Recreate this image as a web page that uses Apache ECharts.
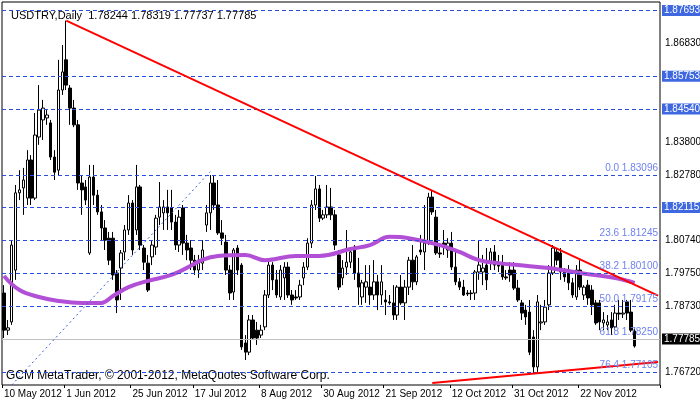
<!DOCTYPE html>
<html>
<head>
    <meta charset="UTF-8">
    <script src="https://cdn.jsdelivr.net/npm/echarts@6/dist/echarts.min.js"></script>
    <style>html,body{margin:0;padding:0;background:#fff;}</style>
</head>
<body>
    <div id="main" style="width: 700px; height: 402px;"></div>
    <script>
        // date labels and where they sit on the bar axis
        var dateLabels = ['10 May 2012', '1 Jun 2012', '25 Jun 2012', '17 Jul 2012', '8 Aug 2012',
            '30 Aug 2012', '21 Sep 2012', '12 Oct 2012', '31 Oct 2012', '22 Nov 2012'];
        var labelIdx = [0, 16, 33, 49, 66, 82, 98, 115, 131, 148];
        var slotCount = 169;

        // open, close, low, high
        var candles = [
            [1.7940,1.7827,1.7803,1.7964],[1.7827,1.7834,1.7812,1.7858],[1.7852,1.8086,1.7843,1.8101],[1.8010,1.8245,1.7980,1.8269],
            [1.8245,1.8254,1.8223,1.8314],[1.8260,1.8284,1.8178,1.8321],[1.8229,1.8345,1.8208,1.8375],[1.8345,1.8229,1.8208,1.8360],
            [1.8229,1.8421,1.8223,1.8488],[1.8415,1.8497,1.8391,1.8573],[1.8467,1.8503,1.8406,1.8528],[1.8473,1.8482,1.8452,1.8497],
            [1.8458,1.8354,1.8345,1.8467],[1.8354,1.8308,1.8284,1.8375],[1.8314,1.8558,1.8299,1.8650],[1.8558,1.8613,1.8543,1.8695],
            [1.8650,1.8573,1.8558,1.87693],[1.8564,1.8503,1.8452,1.8573],[1.8503,1.8452,1.8445,1.8528],[1.8452,1.8275,1.8254,1.8467],
            [1.8275,1.8254,1.8178,1.8299],[1.8263,1.8223,1.8208,1.8284],[1.8062,1.8293,1.8056,1.8330],[1.8293,1.8238,1.8208,1.8330],
            [1.8238,1.8187,1.8178,1.8254],[1.8187,1.8138,1.8101,1.8208],[1.8138,1.8101,1.8071,1.8162],[1.8107,1.8040,1.8025,1.8126],
            [1.8107,1.7995,1.7980,1.8126],[1.8001,1.7919,1.7879,1.8010],[1.8016,1.8062,1.7919,1.8071],[1.8065,1.8132,1.8040,1.8147],
            [1.8132,1.8214,1.8117,1.8238],[1.8214,1.8071,1.8056,1.8223],[1.8132,1.8263,1.8117,1.8330],[1.8263,1.8086,1.8071,1.8269],
            [1.8077,1.8034,1.8010,1.8086],[1.8031,1.7949,1.7943,1.8056],[1.8050,1.8086,1.8025,1.8101],[1.8080,1.8168,1.8056,1.8178],
            [1.8171,1.8202,1.8147,1.8278],[1.8184,1.8202,1.8132,1.8223],[1.8202,1.8184,1.8132,1.8254],[1.8199,1.8156,1.8132,1.8254],
            [1.8156,1.8086,1.8071,1.8178],[1.8086,1.8171,1.8065,1.8193],[1.8199,1.8092,1.8056,1.8208],[1.8092,1.8071,1.8040,1.8117],
            [1.8077,1.8040,1.8010,1.8101],[1.8040,1.8010,1.7995,1.8056],[1.8010,1.8040,1.7986,1.8056],[1.8031,1.8071,1.8010,1.8101],
            [1.8147,1.8184,1.8126,1.8208],[1.8184,1.8275,1.8132,1.8299],[1.8275,1.8208,1.8193,1.8299],[1.8208,1.8123,1.8117,1.8284],
            [1.8123,1.8107,1.8086,1.8162],[1.8095,1.8010,1.7995,1.8117],[1.8010,1.7940,1.7919,1.8025],[1.7943,1.8071,1.7919,1.8077],
            [1.8077,1.8010,1.7995,1.8086],[1.8025,1.7776,1.7767,1.8031],[1.7788,1.7760,1.7736,1.7812],[1.7760,1.7858,1.7751,1.7873],
            [1.7858,1.7803,1.7797,1.7873],[1.7827,1.7803,1.7782,1.7852],[1.7812,1.7827,1.7803,1.7843],[1.7837,1.7934,1.7827,1.7949],
            [1.7934,1.8025,1.7925,1.8040],[1.8025,1.7980,1.7949,1.8034],[1.7980,1.7934,1.7925,1.8010],[1.7928,1.8010,1.7919,1.8025],
            [1.7986,1.8019,1.7919,1.8034],[1.8019,1.7934,1.7925,1.8034],[1.7934,1.7919,1.7904,1.7949],[1.7928,1.7925,1.7919,1.7949],
            [1.7928,1.7964,1.7919,1.7980],[1.7986,1.8019,1.7964,1.8034],[1.8019,1.8092,1.8010,1.8107],[1.8092,1.8208,1.8077,1.8223],
            [1.8208,1.8257,1.8193,1.8296],[1.8257,1.8168,1.8156,1.8269],[1.8168,1.8178,1.8162,1.8193],[1.8178,1.8202,1.8168,1.8269],
            [1.8202,1.8178,1.8162,1.8260],[1.8178,1.8086,1.8071,1.8193],[1.8056,1.7958,1.7949,1.8071],[1.7986,1.8016,1.7964,1.8040],
            [1.8019,1.8034,1.7995,1.8132],[1.8034,1.8065,1.8016,1.8071],[1.8080,1.8001,1.7980,1.8086],[1.8001,1.7958,1.7904,1.8047],
            [1.7928,1.7971,1.7904,1.7980],[1.7958,1.7974,1.7910,1.8025],[1.7958,1.7934,1.7904,1.8025],[1.7934,1.7974,1.7919,1.8040],
            [1.7974,1.7934,1.7888,1.7995],[1.7934,1.7974,1.7904,1.8025],[1.7919,1.7913,1.7873,1.7949],[1.7913,1.7910,1.7904,1.7934],
            [1.7910,1.7873,1.7858,1.7964],[1.7873,1.7958,1.7858,1.7964],[1.7958,1.7910,1.7904,1.7995],[1.7910,1.7958,1.7858,1.7980],
            [1.7958,1.8040,1.7934,1.8050],[1.8040,1.7974,1.7949,1.8086],[1.7974,1.8050,1.7964,1.8056],[1.8071,1.8065,1.8056,1.8117],
            [1.8065,1.8092,1.8010,1.8208],[1.8092,1.8232,1.8086,1.8245],[1.8232,1.8187,1.8178,1.8254],[1.8171,1.8062,1.8056,1.8193],
            [1.8062,1.8059,1.8047,1.8086],[1.8092,1.8080,1.8056,1.8132],[1.8071,1.8092,1.8047,1.8107],[1.8092,1.8019,1.8010,1.8126],
            [1.8019,1.7974,1.7964,1.8071],[1.7974,1.7958,1.7949,1.7986],[1.7958,1.7934,1.7931,1.7980],[1.7940,1.7937,1.7931,1.7949],
            [1.7940,1.7938,1.7919,1.7949],[1.7940,1.8004,1.7919,1.8010],[1.8004,1.8025,1.7980,1.8101],[1.8004,1.8016,1.7964,1.8056],
            [1.8025,1.7980,1.7949,1.8077],[1.8031,1.8065,1.8010,1.8077],[1.8065,1.8025,1.8010,1.8086],[1.8025,1.8022,1.8004,1.8056],
            [1.8031,1.7989,1.7980,1.8056],[1.7989,1.7986,1.7980,1.8010],[1.8010,1.7995,1.7974,1.8034],[1.8010,1.7955,1.7949,1.8034],
            [1.7955,1.7919,1.7913,1.7980],[1.7910,1.7879,1.7858,1.7919],[1.7888,1.7867,1.7843,1.7904],[1.7882,1.7760,1.7751,1.7919],
            [1.7806,1.7715,1.7697,1.7827],[1.7715,1.7913,1.7700,1.7934],[1.7849,1.7852,1.7827,1.7904],[1.7852,1.7897,1.7843,1.7919],
            [1.7904,1.8001,1.7888,1.8025],[1.8001,1.8077,1.7995,1.8086],[1.8065,1.8040,1.8025,1.8077],[1.8062,1.8004,1.7980,1.8077],
            [1.8004,1.7989,1.7974,1.8016],[1.8001,1.7971,1.7949,1.8025],[1.7971,1.7934,1.7925,1.7986],[1.7928,1.8010,1.7919,1.8025],
            [1.8010,1.7958,1.7949,1.8040],[1.7934,1.7958,1.7919,1.7964],[1.7964,1.7925,1.7904,1.7980],[1.7949,1.7904,1.7873,1.7964],
            [1.7910,1.7849,1.7843,1.7919],[1.7910,1.7852,1.7827,1.7919],[1.7849,1.7858,1.7827,1.7882],[1.7843,1.7852,1.7827,1.7873],
            [1.7858,1.7834,1.7812,1.7882],[1.7837,1.7879,1.7827,1.7904],[1.7879,1.7876,1.7858,1.7919],[1.7876,1.7879,1.7864,1.7919],
            [1.7913,1.7879,1.7858,1.7919],[1.7882,1.7827,1.7821,1.7919],[1.78244,1.77785,1.77737,1.78319]
        ];

        // moving average read at points along the purple curve
        var maIdx = [0, 4, 9, 14, 20, 25, 28, 32, 37, 43, 55, 62, 67, 75, 81, 89, 94, 99, 104, 112, 117, 122, 127, 132, 140, 148, 157, 162];
        var maVal = [1.7992, 1.7949, 1.7928, 1.7916, 1.7910, 1.7910, 1.7931, 1.7958, 1.7977, 1.7995, 1.8053, 1.8056, 1.8040,
            1.8053, 1.8053, 1.8074, 1.8086, 1.8111, 1.8107, 1.8086, 1.8065, 1.8040, 1.8031, 1.8025, 1.8016, 1.8001, 1.7986, 1.7971];

        // price levels
        var axisTicks = [1.87850, 1.86830, 1.84790, 1.83800, 1.82780, 1.81760, 1.80740, 1.79750, 1.78730, 1.76720];
        var levelLines = [1.87693, 1.85753, 1.84540, 1.82115];
        var fibPct = ['0.0', '23.6', '38.2', '50.0', '61.8', '76.4'];
        var fibVal = [1.83096, 1.81245, 1.80100, 1.79175, 1.78250, 1.77105];
        var lastPrice = 1.77785;
        var trendHigh = [[16, 1.87693], [168, 1.7932]];
        var trendLow = [[110, 1.7666], [168, 1.7730]];
        var fibLine = [[2, 1.7660], [53, 1.83096]];

        var categories = [];
        for (var i = 0; i < slotCount; i++) {
            var k = labelIdx.indexOf(i);
            categories.push(k >= 0 ? dateLabels[k] : '');
        }
        var maData = categories.map(function () { return null; });
        maIdx.forEach(function (ix, j) { maData[ix] = maVal[j]; });

        var blue = '#2a4fd6';
        var font = 'Liberation Sans';
        var lines = [];
        axisTicks.forEach(function (v) {
            lines.push({
                yAxis: v, lineStyle: { color: 'rgba(0,0,0,0)', width: 1 },
                label: { show: true, position: 'end', distance: 5, formatter: v.toFixed(5), color: '#000', fontSize: 10, fontFamily: font }
            });
        });
        levelLines.forEach(function (v) {
            lines.push({
                yAxis: v, lineStyle: { color: blue, type: [4, 3], width: 1 },
                label: { show: true, position: 'end', distance: 2, formatter: v.toFixed(5), color: '#fff',
                    backgroundColor: '#3f68e0', padding: [1, 2, 0, 2], fontSize: 10, fontFamily: font }
            });
        });
        fibVal.forEach(function (v, j) {
            lines.push({
                yAxis: v, lineStyle: { color: blue, type: [4, 3], width: 1 },
                label: { show: true, position: 'insideEndTop', distance: [2, 2], formatter: fibPct[j] + ' ' + v.toFixed(5),
                    color: '#6f82ee', fontSize: 10, fontFamily: font }
            });
        });
        lines.push({
            yAxis: lastPrice, lineStyle: { color: '#c0c0c0', type: 'solid', width: 1 },
            label: { show: true, position: 'end', distance: 2, formatter: lastPrice.toFixed(5), color: '#fff',
                backgroundColor: '#000', padding: [1, 2, 0, 2], fontSize: 10, fontFamily: font }
        });
        function seg(p, style) {
            return [{ coord: p[0], lineStyle: style, label: { show: false } }, { coord: p[1] }];
        }
        lines.push(seg(trendHigh, { color: '#ff0000', width: 2, type: 'solid' }));
        lines.push(seg(trendLow, { color: '#ff0000', width: 2, type: 'solid' }));
        lines.push(seg(fibLine, { color: '#3a5fe0', width: 1, type: [2, 3] }));

        var myChart = echarts.init(document.getElementById('main'));
        var option = {
            animation: false,
            backgroundColor: '#fff',
            grid: { left: 2, right: 40, top: 2, bottom: 17, show: true, borderColor: '#000', borderWidth: 1 },
            title: {
                text: 'USDTRY,Daily  1.78244 1.78319 1.77737 1.77785', left: 6, top: 5,
                textStyle: { fontSize: 11, fontWeight: 'normal', color: '#000', fontFamily: font }
            },
            graphic: [{
                type: 'text', left: 6, top: 370,
                style: { text: 'GCM MetaTrader, © 2001-2012, MetaQuotes Software Corp.', fontSize: 12, fontFamily: font, fill: '#000' }
            }],
            xAxis: {
                type: 'category', data: categories, boundaryGap: true,
                axisLine: { show: false },
                axisTick: { show: true, length: 3, lineStyle: { color: '#000' }, interval: function (i) { return labelIdx.indexOf(i) >= 0; } },
                axisLabel: { interval: function (i) { return labelIdx.indexOf(i) >= 0; }, showMinLabel: true, hideOverlap: false,
                    align: 'left', margin: 4, fontSize: 10, color: '#000', fontFamily: font },
                splitLine: { show: false }
            },
            yAxis: {
                type: 'value', position: 'right', min: 1.7660, max: 1.8826, scale: true,
                axisLine: { show: false }, axisTick: { show: false }, axisLabel: { show: false }, splitLine: { show: false }
            },
            series: [
                {
                    type: 'candlestick', data: candles, barWidth: 3,
                    itemStyle: { color: '#fff', color0: '#000', borderColor: '#000', borderColor0: '#000', borderWidth: 1 },
                    markLine: { symbol: ['none', 'none'], silent: true, data: lines }
                },
                {
                    type: 'line', data: maData, connectNulls: true, smooth: 0.4, showSymbol: false,
                    lineStyle: { color: '#b14fd6', width: 4 }, z: 3
                }
            ]
        };
        myChart.setOption(option);
    </script>
</body>
</html>
